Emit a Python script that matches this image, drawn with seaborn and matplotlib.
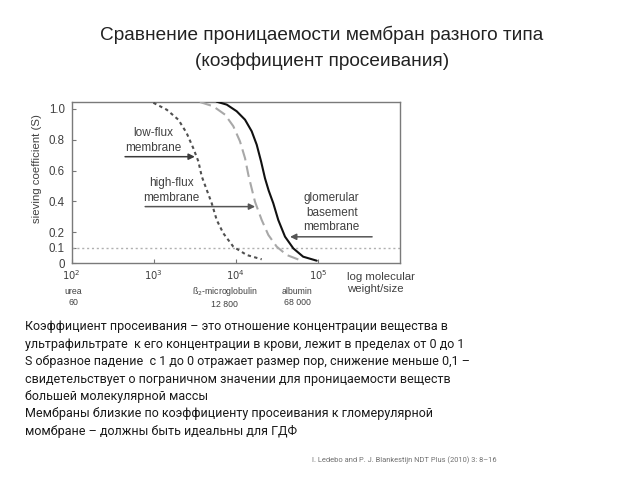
import numpy as np
import pandas as pd
import matplotlib
matplotlib.use("Agg")
import matplotlib.pyplot as plt
import seaborn as sns

# ---------------- data ----------------
low_flux_logmw = [2.995, 3.158, 3.30, 3.40, 3.48, 3.543, 3.584, 3.645, 3.706, 3.767, 3.847, 3.969, 4.132, 4.315]
low_flux_s     = [1.04, 0.995, 0.93, 0.844, 0.747, 0.66, 0.563, 0.475, 0.388, 0.279, 0.193, 0.106, 0.052, 0.024]

high_flux_logmw = [3.563, 3.725, 3.868, 3.969, 4.05, 4.112, 4.152, 4.19, 4.233, 4.315, 4.396, 4.498, 4.62, 4.78]
high_flux_s     = [1.045, 1.017, 0.963, 0.888, 0.79, 0.68, 0.573, 0.49, 0.398, 0.279, 0.182, 0.106, 0.052, 0.019]

gbm_logmw = [3.767, 3.889, 4.010, 4.112, 4.193, 4.254, 4.307, 4.355, 4.40, 4.456, 4.517, 4.599, 4.70, 4.82, 4.985]
gbm_s     = [1.047, 1.028, 0.985, 0.93, 0.855, 0.768, 0.66, 0.55, 0.47, 0.388, 0.279, 0.171, 0.095, 0.041, 0.015]

membranes = ["low-flux", "high-flux", "glomerular"]
threshold_s = 0.1

y_ticks = [0, 0.1, 0.2, 0.4, 0.6, 0.8, 1.0]
y_ticklabels = ["0", "0.1", "0.2", "0.4", "0.6", "0.8", "1.0"]
x_tick_exp = [2, 3, 4, 5]
marker_names = ["urea\n60", "ß$_2$-microglobulin\n12 800", "albumin\n68 000"]
marker_logpos = [2.02, 3.86, 4.75]

title_lines = ["Сравнение проницаемости мембран разного типа", "(коэффициент просеивания)"]
body_lines = [
    "Коэффициент просеивания – это отношение концентрации вещества в",
    "ультрафильтрате  к его концентрации в крови, лежит в пределах от 0 до 1",
    "S образное падение  с 1 до 0 отражает размер пор, снижение меньше 0,1 –",
    "свидетельствует о пограничном значении для проницаемости веществ",
    "большей молекулярной массы",
    "Мембраны близкие по коэффициенту просеивания к гломерулярной",
    "момбране – должны быть идеальны для ГДФ",
]
citation = "I. Ledebo and P. J. Blankestijn NDT Plus (2010) 3: 8–16"

# ---------------- frame ----------------
df = pd.concat([
    pd.DataFrame({"mw": 10 ** np.array(low_flux_logmw), "s": low_flux_s, "membrane": "low-flux"}),
    pd.DataFrame({"mw": 10 ** np.array(high_flux_logmw), "s": high_flux_s, "membrane": "high-flux"}),
    pd.DataFrame({"mw": 10 ** np.array(gbm_logmw), "s": gbm_s, "membrane": "glomerular"}),
], ignore_index=True)

sns.set_style("white")
plt.rcParams["font.family"] = ["Liberation Sans", "DejaVu Sans"]

W, H = 640, 480
fig = plt.figure(figsize=(6.4, 4.8), dpi=100)
fig.patch.set_facecolor("white")


def px(x, y):
    return x / W, 1 - y / H


def ftext(x, y, s, **kw):
    fx, fy = px(x, y)
    fig.text(fx, fy, s, **kw)


ax_l, ax_r, ax_t, ax_b = 71.7, 400.0, 101.7, 263.0
ax = fig.add_axes([ax_l / W, 1 - ax_b / H, (ax_r - ax_l) / W, (ax_b - ax_t) / H])

ax.axhline(threshold_s, color="#b0b0b0", lw=1.0, ls=(0, (1.5, 2)), zorder=1)

sns.lineplot(data=df, x="mw", y="s", hue="membrane", style="membrane",
             hue_order=membranes, style_order=membranes,
             palette={"low-flux": "#505050", "high-flux": "#a8a8a8", "glomerular": "#111111"},
             dashes={"low-flux": (1.6, 1.6), "high-flux": (5.5, 2.6), "glomerular": ""},
             sort=False, estimator=None, legend=False, ax=ax, linewidth=1.5, zorder=3)

ax.set_xscale("log")
ax.set_xlim(1e2, 1e6)
ax.set_ylim(0, 1.047)
ax.minorticks_off()
ax.set_xticks([10.0 ** e for e in x_tick_exp])
ax.set_xticklabels([f"$10^{{{e}}}$" for e in x_tick_exp])
ax.set_yticks(y_ticks)
ax.set_yticklabels(y_ticklabels)
ax.tick_params(axis="y", direction="in", length=3, width=0.8, color="#777777",
               labelsize=8.3, labelcolor="#404040", pad=5, left=True)
ax.tick_params(axis="x", direction="in", length=3, width=0.8, color="#777777",
               labelsize=7.2, labelcolor="#404040", pad=4, bottom=True)
for sp in ax.spines.values():
    sp.set_color("#7a7a7a")
    sp.set_linewidth(1.0)
ax.set_xlabel("")
ax.set_ylabel("sieving coefficient (S)", fontsize=8.2, color="#404040")
ax.yaxis.set_label_coords(-0.09, 0.583)

# annotations
txtc = "#404040"
ftext(153, 140.5, "low-flux\nmembrane", fontsize=8.5, color=txtc, ha="center", va="center", linespacing=1.3)
ftext(171.7, 190.8, "high-flux\nmembrane", fontsize=8.5, color=txtc, ha="center", va="center", linespacing=1.3)
ftext(331.7, 212.7, "glomerular\nbasement\nmembrane", fontsize=8.5, color=txtc, ha="center", va="center", linespacing=1.3)

arrow_kw = dict(arrowstyle="-|>", color="#3a3a3a", lw=1.1, mutation_scale=9, shrinkA=0, shrinkB=0)
ax.annotate("", xy=(10 ** 3.50, 0.69), xytext=(10 ** 2.65, 0.69), arrowprops=arrow_kw)
ax.annotate("", xy=(10 ** 4.235, 0.366), xytext=(10 ** 2.895, 0.366), arrowprops=dict(arrow_kw, color="#555555"))
ax.annotate("", xy=(10 ** 4.66, 0.17), xytext=(10 ** 5.66, 0.17), arrowprops=dict(arrow_kw, color="#555555"),
            annotation_clip=False)

ftext(347, 283, "log molecular\nweight/size", fontsize=8.2, color=txtc, ha="left", va="center", linespacing=1.25)

for name, lp in zip(marker_names, marker_logpos):
    xpx = ax_l + (lp - 2) * (ax_r - ax_l) / 4
    ftext(xpx, 297, name, fontsize=6.3, color=txtc, ha="center", va="center", linespacing=1.35)

# title
ftext(321.7, 35, title_lines[0], fontsize=13.7, color="#222222", ha="center", va="center")
ftext(321.7, 61.7, title_lines[1], fontsize=13.7, color="#222222", ha="center", va="center")

# body text
body_y = [326.7, 344.3, 361.7, 379, 396.7, 414, 431.7]
for yy, line in zip(body_y, body_lines):
    ftext(25, yy, line, fontsize=9.0, color="#1a1a1a", ha="left", va="center",
          family=["Roboto", "DejaVu Sans"])

ftext(497, 460, citation, fontsize=5.4, color="#707070", ha="right", va="center",
      family=["Roboto", "DejaVu Sans"])

fig.savefig("out.png", dpi=100, facecolor="white")
